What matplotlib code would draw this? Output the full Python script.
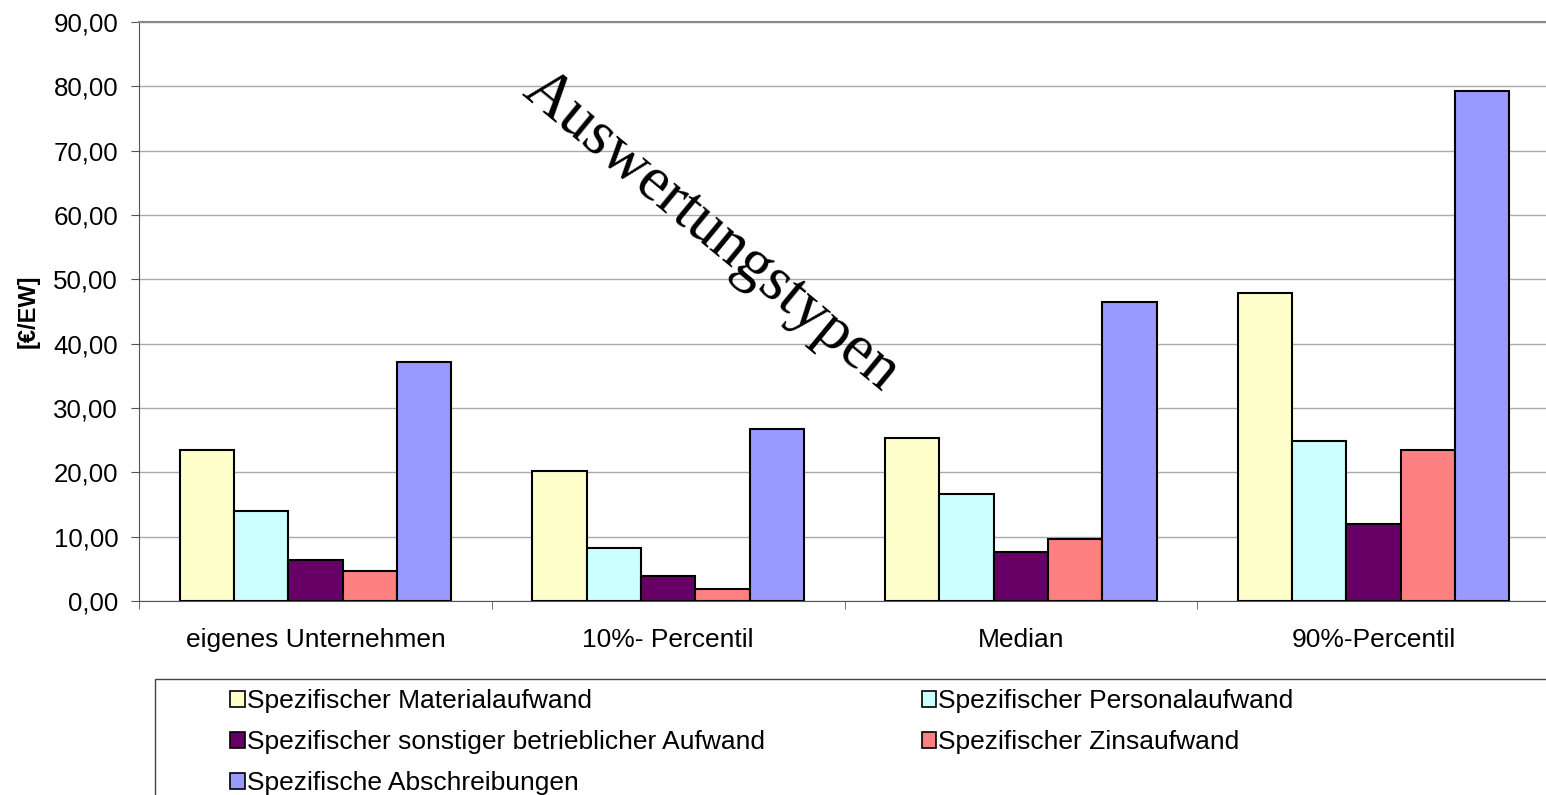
import matplotlib
matplotlib.use("Agg")
import matplotlib.pyplot as plt
import numpy as np
from matplotlib.patches import Rectangle, Patch

categories = ["eigenes Unternehmen", "10%- Percentil", "Median", "90%-Percentil"]
series_names = ["Spezifischer Materialaufwand", "Spezifischer Personalaufwand",
                "Spezifischer sonstiger betrieblicher Aufwand", "Spezifischer Zinsaufwand",
                "Spezifische Abschreibungen"]
material = [23.5, 20.2, 25.3, 47.9]
personal = [13.95, 8.2, 16.7, 24.8]
sonstiger = [6.4, 3.9, 7.6, 12.0]
zins = [4.7, 1.8, 9.6, 23.5]
abschreibungen = [37.2, 26.7, 46.4, 79.2]
colors = ["#FFFFCC", "#CCFFFF", "#660066", "#FF8080", "#9999FF"]
yticks = [0, 10, 20, 30, 40, 50, 60, 70, 80, 90]

plt.rcParams['font.family'] = ['Liberation Sans', 'DejaVu Sans']
FS = 19

W, H = 1546, 795
fig = plt.figure(figsize=(W / 100, H / 100), dpi=100)
left, right, top, bottom = 139, 1550, 22, 601
ax = fig.add_axes([left / W, 1 - bottom / H, (right - left) / W, (bottom - top) / H])

data = [material, personal, sonstiger, zins, abschreibungen]
x = np.arange(len(categories))
bw = 1 / 6.5
for i, (vals, c) in enumerate(zip(data, colors)):
    ax.bar(x - 2 * bw + i * bw, vals, width=bw, color=c, edgecolor="black",
           linewidth=1.5, zorder=3)

ax.set_xlim(-0.5, len(categories) - 0.5)
ax.set_ylim(0, 90)
ax.set_yticks(yticks)
ax.set_yticklabels([f"{v:.2f}".replace(".", ",") for v in yticks], fontsize=18.6)
ax.set_xticks(x)
ax.set_xticklabels(categories, fontsize=FS)
ax.set_xticks(np.arange(-0.5, len(categories) + 0.5, 1), minor=True)
ax.tick_params(axis="x", which="major", length=0, pad=19.5)
ax.tick_params(axis="x", which="minor", length=6, color="#555555", direction="out")
ax.tick_params(axis="y", length=6, color="#555555", direction="out", pad=9)
ax.yaxis.grid(True, color="#aaaaaa", linewidth=1, zorder=0)
ax.spines["right"].set_visible(False)
ax.spines["top"].set_color("#888888")
ax.spines["top"].set_linewidth(1.5)
ax.spines["left"].set_color("#555555")
ax.spines["bottom"].set_color("#555555")
ax.set_ylabel("[€/EW]", fontsize=17, fontweight="bold", labelpad=10)

fig.text(711 / W, 1 - 232 / H, "Auswertungstypen", rotation=-39.5,
         fontsize=45, family=["Liberation Serif", "DejaVu Serif"],
         ha="center", va="center", rotation_mode="anchor", zorder=5)

# legend box
fig.patches.append(Rectangle((155 / W, 1 - 820 / H), 1400 / W, 141 / H,
                             transform=fig.transFigure, fill=False,
                             edgecolor="#444444", linewidth=1))
order = [0, 2, 4, 1, 3]
handles = [Patch(facecolor=colors[i], edgecolor="black", linewidth=1.2) for i in order]
labels = [series_names[i] for i in order]
fig.legend(handles, labels, ncol=2, loc="upper left",
           bbox_to_anchor=(230 / W, 1 - 689 / H), frameon=False, fontsize=FS,
           handlelength=0.55, handleheight=0.55, handletextpad=0.08,
           columnspacing=5.95, labelspacing=0.65, borderpad=0, borderaxespad=0)

fig.savefig("out.png", dpi=100)
